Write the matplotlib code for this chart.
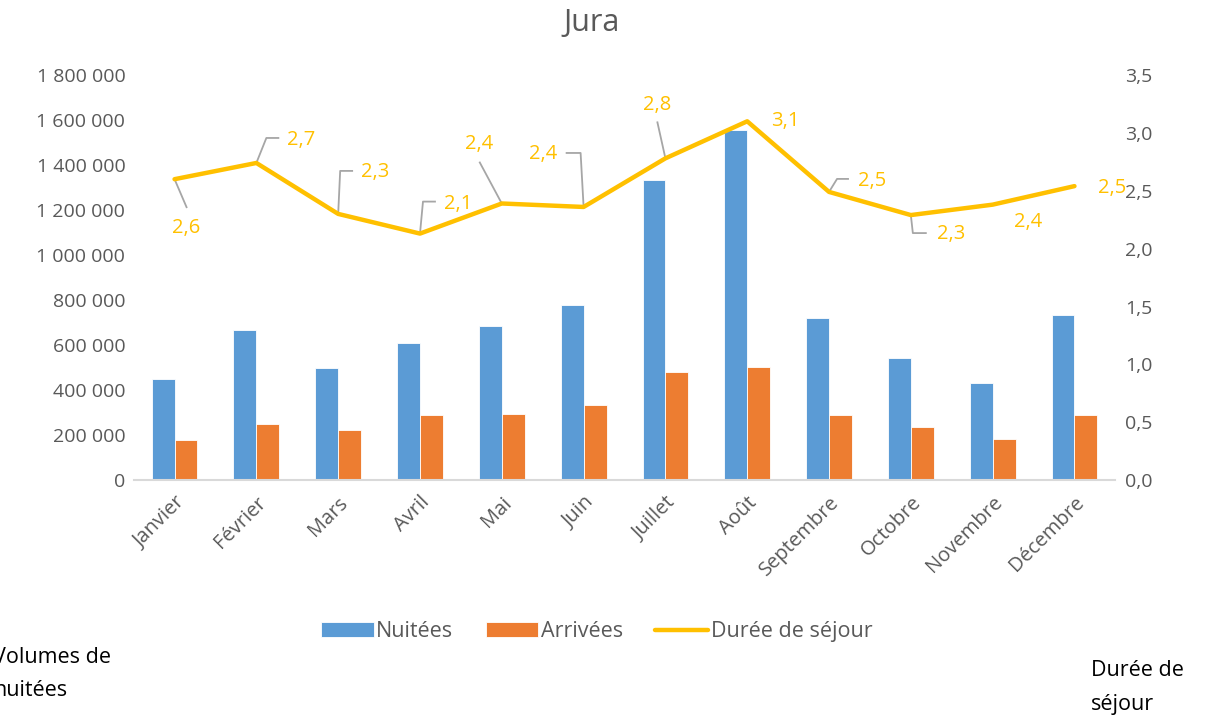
import numpy as np
import matplotlib.pyplot as plt
import matplotlib.transforms as mtransforms
from matplotlib.ticker import FuncFormatter

plt.rcParams['font.family'] = ['Open Sans', 'DejaVu Sans']

mois = ['Janvier', 'Février', 'Mars', 'Avril', 'Mai', 'Juin', 'Juillet',
        'Août', 'Septembre', 'Octobre', 'Novembre', 'Décembre']
nuitees = [448000, 669000, 500000, 610000, 687000, 777000, 1333000,
           1556000, 719000, 541000, 432000, 736000]
arrivees = [177000, 248000, 222000, 288000, 293000, 336000, 481000,
            504000, 289000, 236000, 182000, 289000]
duree = [2.60, 2.74, 2.30, 2.13, 2.39, 2.36, 2.78, 3.10, 2.49, 2.29, 2.38, 2.54]
duree_txt = ['2,6', '2,7', '2,3', '2,1', '2,4', '2,4', '2,8', '3,1', '2,5', '2,3', '2,4', '2,5']

# position des étiquettes (pixels par rapport au point) et lignes de rappel
etiq_pos = [(12, -49), (45, 23), (37, 42), (38, 30), (-23, 59), (-40, 53),
            (-8, 53), (38, 0), (43, 11), (40, -19), (35, -17), (38, -2)]
rappels = [[(12, -28)], [(10, 25), (22, 25)], [(2, 43), (14, 43)],
           [(3, 32), (15, 32)], [(-22, 41)], [(-3, 54), (-17, 54)],
           [(-8, 36)], [], [(8, 13), (19, 13)], [(2, -18), (15, -18)], [], []]

bleu = '#5B9BD5'
orange = '#ED7D31'
jaune = '#FFC000'
gris = '#595959'

fig = plt.figure(figsize=(12.15, 7.21), dpi=100)
ax = fig.add_axes([0.110, 0.334, 0.808, 0.562])
x = np.arange(len(mois))
w = 0.28
ax.bar(x - w / 2, nuitees, w, color=bleu, edgecolor='white', linewidth=0.6, label='Nuitées')
ax.bar(x + w / 2, arrivees, w, color=orange, edgecolor='white', linewidth=0.6, label='Arrivées')
ax.set_xlim(-0.5, len(mois) - 0.5)
ax.set_ylim(0, 1800000)
ax.set_yticks(np.arange(0, 1800001, 200000))
ax.yaxis.set_major_formatter(FuncFormatter(lambda v, p: f'{int(v):,}'.replace(',', ' ')))
ax.set_xticks(x)
ax.set_xticklabels(mois, rotation=45, ha='right', rotation_mode='anchor')
ax.tick_params(length=0, labelsize=14, colors=gris, pad=6)
ax.tick_params(axis='x', labelsize=14.5, pad=9)
for s in ['top', 'left', 'right']:
    ax.spines[s].set_visible(False)
ax.spines['bottom'].set_color('#d9d9d9')
ax.spines['bottom'].set_linewidth(1.5)

ax2 = ax.twinx()
ax2.plot(x, duree, color=jaune, linewidth=3.2, solid_capstyle='round',
         solid_joinstyle='round', label='Durée de séjour', zorder=3)
ax2.set_ylim(0, 3.5)
ax2.set_yticks(np.arange(0, 3.51, 0.5))
ax2.yaxis.set_major_formatter(FuncFormatter(lambda v, p: f'{v:.1f}'.replace('.', ',')))
ax2.tick_params(length=0, labelsize=14, colors=gris, pad=7)
for s in ax2.spines.values():
    s.set_visible(False)

for i in range(len(mois)):
    tr = fig.dpi_scale_trans + mtransforms.ScaledTranslation(x[i], duree[i], ax2.transData)
    if rappels[i]:
        pts = [(0, 0)] + rappels[i]
        ax2.plot([p[0] / 100 for p in pts], [p[1] / 100 for p in pts], transform=tr,
                 color='#a6a6a6', linewidth=1.3, zorder=2, clip_on=False)
    dx, dy = etiq_pos[i]
    ax2.text(dx / 100, dy / 100, duree_txt[i], transform=tr, color=jaune,
             fontsize=14.5, ha='center', va='center', zorder=4)

fig.text(0.487, 0.968, 'Jura', ha='center', va='center', fontsize=22, color=gris)

h1, l1 = ax.get_legend_handles_labels()
h2, l2 = ax2.get_legend_handles_labels()
fig.legend(h1 + h2, l1 + l2, loc='center', bbox_to_anchor=(0.491, 0.124), ncol=3,
           frameon=False, fontsize=15.5, labelcolor=gris, handlelength=2.45,
           handleheight=0.65, handletextpad=0.12, columnspacing=1.5)

fig.text(-0.006, 0.028, 'Volumes de\nnuitées', ha='left', va='bottom', fontsize=15.5,
         color='black', linespacing=1.75)
fig.text(0.898, 0.008, 'Durée de\nséjour', ha='left', va='bottom', fontsize=15.5,
         color='black', linespacing=1.85)

fig.savefig('out.png', dpi=100)
